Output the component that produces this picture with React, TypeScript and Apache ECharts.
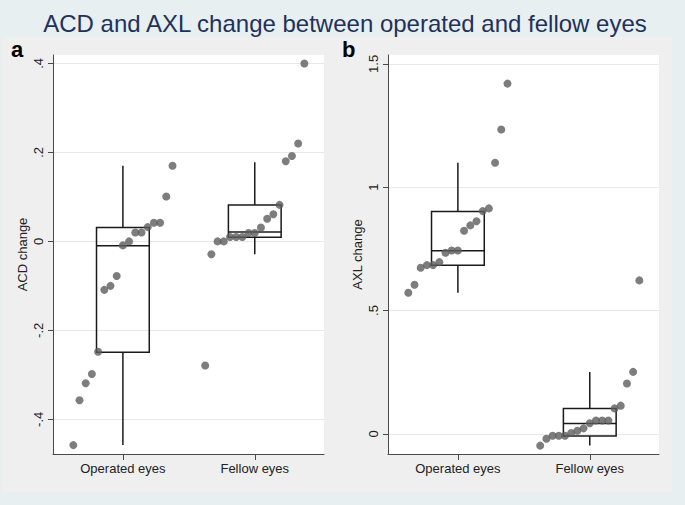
import React, { useEffect, useRef } from 'react';
import * as echarts from 'echarts';

const titleText = 'ACD and AXL change between operated and fellow eyes';
const categories = ['Operated eyes', 'Fellow eyes'];

// individual eyes, sorted (ACD change)
const acdOperated = [-0.458, -0.357, -0.319, -0.298, -0.248, -0.109, -0.1, -0.078, -0.009, 0.0, 0.02, 0.02, 0.032, 0.042, 0.042, 0.101, 0.17];
const acdFellow = [-0.279, -0.029, 0, 0, 0.01, 0.01, 0.01, 0.019, 0.019, 0.031, 0.051, 0.061, 0.082, 0.18, 0.192, 0.22, 0.4];
// individual eyes, sorted (AXL change)
const axlOperated = [0.572, 0.604, 0.673, 0.684, 0.684, 0.696, 0.734, 0.743, 0.743, 0.823, 0.845, 0.862, 0.903, 0.914, 1.099, 1.234, 1.42];
const axlFellow = [-0.048, -0.02, -0.008, -0.008, -0.008, 0.003, 0.012, 0.022, 0.043, 0.054, 0.054, 0.054, 0.103, 0.114, 0.204, 0.251, 0.622];

// box stats: [lower adjacent, Q1, median, Q3, upper adjacent]
const acdBoxOperated = [-0.458, -0.249, -0.01, 0.031, 0.17];
const acdBoxFellow = [-0.029, 0.009, 0.021, 0.082, 0.178];
const axlBoxOperated = [0.572, 0.683, 0.742, 0.901, 1.099];
const axlBoxFellow = [-0.048, -0.009, 0.042, 0.103, 0.251];

const acdTicks = [-0.4, -0.2, 0, 0.2, 0.4];
const axlTicks = [0, 0.5, 1, 1.5];
const catTicks = [1, 2];

const FONT = '"Liberation Sans", Arial, Helvetica, sans-serif';
const JITTER = 0.047;
const BOX_HALF = 0.2;

function fmt(v: number): string {
  const r = Math.round(v * 100) / 100;
  if (r === 0) return '0';
  let s = String(r);
  s = s.replace(/^0\./, '.').replace(/^-0\./, '-.');
  return s;
}

function spread(values: number[], cat: number) {
  const n = values.length;
  return values.map((v, i) => [cat + (i - (n - 1) / 2) * JITTER, v]);
}

function boxRender(params: any, api: any) {
  const x = api.value(0);
  const lo = api.value(1);
  const q1 = api.value(2);
  const med = api.value(3);
  const q3 = api.value(4);
  const hi = api.value(5);
  const tl = api.coord([x - BOX_HALF, q3]);
  const br = api.coord([x + BOX_HALF, q1]);
  const mL = api.coord([x - BOX_HALF, med]);
  const mR = api.coord([x + BOX_HALF, med]);
  const top = api.coord([x, hi]);
  const q3c = api.coord([x, q3]);
  const q1c = api.coord([x, q1]);
  const bot = api.coord([x, lo]);
  const st = { stroke: '#1a1a1a', lineWidth: 1.5, fill: 'none' };
  return {
    type: 'group',
    children: [
      { type: 'rect', shape: { x: tl[0], y: tl[1], width: br[0] - tl[0], height: br[1] - tl[1] }, style: st },
      { type: 'line', shape: { x1: mL[0], y1: mL[1], x2: mR[0], y2: mR[1] }, style: st },
      { type: 'line', shape: { x1: top[0], y1: top[1], x2: q3c[0], y2: q3c[1] }, style: st },
      { type: 'line', shape: { x1: q1c[0], y1: q1c[1], x2: bot[0], y2: bot[1] }, style: st },
    ],
  };
}

const axisLineStyle = { color: '#4a4a4a', width: 1 };

function makeX(gridIndex: number) {
  return {
    gridIndex,
    type: 'value',
    min: 0.47,
    max: 2.525,
    axisLine: { show: true, onZero: false, lineStyle: axisLineStyle },
    axisTick: { show: true, length: 6, customValues: catTicks, lineStyle: axisLineStyle },
    axisLabel: {
      customValues: catTicks,
      formatter: (v: number) => categories[Math.round(v) - 1],
      fontSize: 13,
      fontFamily: FONT,
      color: '#222',
      margin: 8,
    },
    splitLine: { show: false },
  };
}

function makeY(gridIndex: number, name: string, min: number, max: number, ticks: number[]) {
  return {
    gridIndex,
    type: 'value',
    min,
    max,
    name,
    nameLocation: 'middle',
    nameRotate: 90,
    nameGap: 24,
    nameTextStyle: { fontSize: 13, fontFamily: FONT, color: '#222' },
    axisLine: { show: true, onZero: false, lineStyle: axisLineStyle },
    axisTick: { show: true, length: 5, customValues: ticks, lineStyle: axisLineStyle },
    axisLabel: {
      customValues: ticks,
      rotate: 90,
      formatter: fmt,
      fontSize: 13,
      fontFamily: FONT,
      color: '#222',
      margin: 8,
    },
    splitLine: { show: true, lineStyle: { color: '#e8e8e8', width: 1 } },
  };
}

export default function App() {
  const ref = useRef<HTMLDivElement>(null);
  useEffect(() => {
    if (!ref.current) return;
    const chart = echarts.init(ref.current, undefined, { renderer: 'svg' });
    const dotStyle = { color: '#5c5c5c' };
    chart.setOption({
      animation: false,
      backgroundColor: '#e7eff1',
      graphic: [
        {
          type: 'rect',
          z: -100,
          shape: { x: 2, y: 37, width: 670, height: 455 },
          style: { fill: '#efefef' },
          silent: true,
        },
        {
          type: 'text',
          x: 345,
          y: 23,
          style: {
            text: titleText,
            font: `24px ${FONT}`,
            fill: '#23315a',
            textAlign: 'center',
            textVerticalAlign: 'middle',
          },
        },
        {
          type: 'text',
          x: 11,
          y: 38,
          style: { text: 'a', font: `bold 22px ${FONT}`, fill: '#000' },
        },
        {
          type: 'text',
          x: 342,
          y: 38,
          style: { text: 'b', font: `bold 22px ${FONT}`, fill: '#000' },
        },
      ],
      grid: [
        { left: 53, top: 55, width: 271, height: 399, show: true, backgroundColor: '#ffffff', borderWidth: 0, containLabel: false },
        { left: 388, top: 55, width: 271, height: 399, show: true, backgroundColor: '#ffffff', borderWidth: 0, containLabel: false },
      ],
      xAxis: [makeX(0), makeX(1)],
      yAxis: [
        makeY(0, 'ACD change', -0.478, 0.419, acdTicks),
        makeY(1, 'AXL change', -0.082, 1.536, axlTicks),
      ],
      series: [
        {
          type: 'custom',
          xAxisIndex: 0,
          yAxisIndex: 0,
          renderItem: boxRender,
          encode: { x: 0, y: [1, 2, 3, 4, 5] },
          data: [[1, ...acdBoxOperated], [2, ...acdBoxFellow]],
          z: 2,
          silent: true,
        },
        {
          type: 'custom',
          xAxisIndex: 1,
          yAxisIndex: 1,
          renderItem: boxRender,
          encode: { x: 0, y: [1, 2, 3, 4, 5] },
          data: [[1, ...axlBoxOperated], [2, ...axlBoxFellow]],
          z: 2,
          silent: true,
        },
        { type: 'scatter', xAxisIndex: 0, yAxisIndex: 0, symbolSize: 8, itemStyle: dotStyle, data: spread(acdOperated, 1), z: 3 },
        { type: 'scatter', xAxisIndex: 0, yAxisIndex: 0, symbolSize: 8, itemStyle: dotStyle, data: spread(acdFellow, 2), z: 3 },
        { type: 'scatter', xAxisIndex: 1, yAxisIndex: 1, symbolSize: 8, itemStyle: dotStyle, data: spread(axlOperated, 1), z: 3 },
        { type: 'scatter', xAxisIndex: 1, yAxisIndex: 1, symbolSize: 8, itemStyle: dotStyle, data: spread(axlFellow, 2), z: 3 },
      ],
    });
    return () => chart.dispose();
  }, []);
  return <div ref={ref} style={{ width: 685, height: 505, position: 'absolute', left: 0, top: 0 }} />;
}
